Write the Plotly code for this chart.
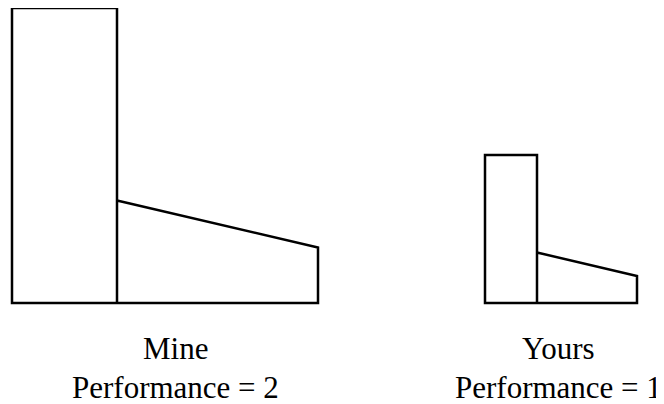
import plotly.graph_objects as go

# Data
labels = ["Mine", "Yours"]
performance = [2, 1]
rect_width = [105, 52]
rect_height = [295, 148]
trap_width = [201, 100]
trap_left_height = [102.5, 50.5]
trap_right_height = [55.5, 27]

x_origin = [12, 485]
label_x = [175, 558]

FONT = "Liberation Serif"
FONT_SIZE = 31

fig = go.Figure()
for i in range(len(labels)):
    x0 = x_origin[i]
    w = rect_width[i]
    h = rect_height[i]
    tw = trap_width[i]
    xs = [x0 + w, x0, x0, x0 + w, x0 + w, x0 + w + tw, x0 + w + tw, x0 + w]
    ys = [0, 0, h, h, 0, 0, trap_right_height[i], trap_left_height[i]]
    fig.add_trace(go.Scatter(x=xs, y=ys, mode="lines",
                             line=dict(color="black", width=2.5, shape="linear"),
                             hoverinfo="skip", showlegend=False))
    fig.add_annotation(x=label_x[i], y=-45, xref="x", yref="y", text=labels[i],
                       showarrow=False, xanchor="center", yanchor="middle",
                       font=dict(family=FONT, size=FONT_SIZE, color="black"))
    fig.add_annotation(x=label_x[i], y=-84, xref="x", yref="y",
                       text=f"Performance = {performance[i]}",
                       showarrow=False, xanchor="center", yanchor="middle",
                       font=dict(family=FONT, size=FONT_SIZE, color="black"))

fig.update_layout(
    width=664, height=404,
    margin=dict(l=0, r=0, t=0, b=0),
    paper_bgcolor="white", plot_bgcolor="white",
    xaxis=dict(range=[8, 672], visible=False, fixedrange=True),
    yaxis=dict(range=[-109, 295], visible=False, fixedrange=True),
)
fig.write_html("out.html")
